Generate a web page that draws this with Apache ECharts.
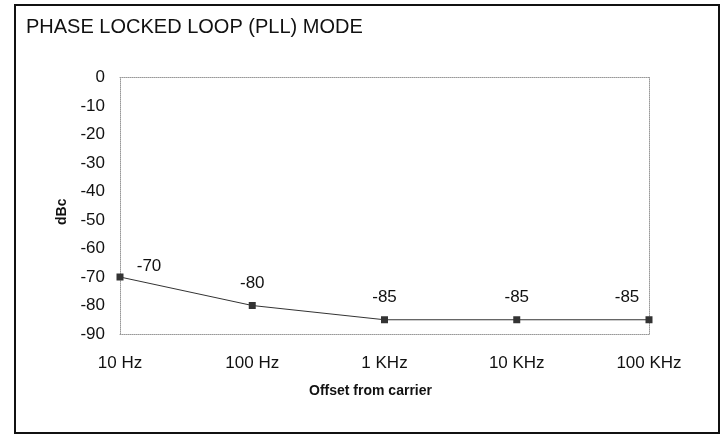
<!DOCTYPE html>
<html lang="en">
<head>
  <meta charset="UTF-8">
  <title>PLL mode</title>
  <style>
    html, body { margin: 0; padding: 0; width: 100%; height: 100%; background: #fff; }
    #main { width: 725px; height: 436px; }
  </style>
</head>
<body>
  <div id="main"></div>
  <script src="https://cdn.jsdelivr.net/npm/echarts@6/dist/echarts.min.js"></script>
  <script type="text/javascript">
    // 数据
    const offsets = ['10 Hz', '100 Hz', '1 KHz', '10 KHz', '100 KHz'];
    const dbcValues = [-70, -80, -85, -85, -85];
    const yTicks = { min: -90, max: 0, step: 10 };

    const font = 'Liberation Sans, Arial, sans-serif';
    const borderLine = { show: true, onZero: false, lineStyle: { color: '#999', type: 'dotted', width: 1 } };

    // 标签位置手工微调（和原图一致）
    const points = dbcValues.map(function (v, i) {
      let item = { value: v };
      if (i === 0) item.label = { offset: [29, 11] };
      if (i === dbcValues.length - 1) item.label = { offset: [-22, 0] };
      return item;
    });

    var myChart = echarts.init(document.getElementById('main'));

    var option = {
      animation: false,
      backgroundColor: '#fff',
      title: {
        text: 'PHASE LOCKED LOOP (PLL) MODE',
        left: 21,
        top: 12,
        textStyle: { fontFamily: font, fontSize: 20, fontWeight: 'normal', color: '#111' }
      },
      grid: { left: 120, right: 76, top: 77.5, bottom: 102 },
      xAxis: [{
        type: 'category',
        data: offsets,
        boundaryGap: false,
        axisLine: borderLine,
        axisTick: { show: false },
        axisLabel: { margin: 21, fontFamily: font, fontSize: 17, color: '#111' },
        name: 'Offset from carrier',
        nameLocation: 'middle',
        nameGap: 50,
        nameTextStyle: { fontFamily: font, fontSize: 14, fontWeight: 'bold', color: '#111', padding: [0, 28, 0, 0] }
      }, {
        type: 'category',
        data: offsets,
        boundaryGap: false,
        position: 'top',
        axisLine: borderLine,
        axisTick: { show: false },
        axisLabel: { show: false }
      }],
      yAxis: [{
        type: 'value',
        min: yTicks.min,
        max: yTicks.max,
        interval: yTicks.step,
        axisLine: borderLine,
        axisTick: { show: false },
        splitLine: { show: false },
        axisLabel: { margin: 15, fontFamily: font, fontSize: 17, color: '#111' },
        name: 'dBc',
        nameLocation: 'middle',
        nameGap: 44,
        nameTextStyle: { fontFamily: font, fontSize: 14, fontWeight: 'bold', color: '#111', padding: [0, 12, 0, 0] }
      }, {
        type: 'value',
        position: 'right',
        min: yTicks.min,
        max: yTicks.max,
        interval: yTicks.step,
        axisLine: borderLine,
        axisTick: { show: false },
        splitLine: { show: false },
        axisLabel: { show: false }
      }],
      series: [{
        type: 'line',
        data: points,
        symbol: 'rect',
        symbolSize: 7,
        itemStyle: { color: '#333' },
        lineStyle: { color: '#333', width: 1 },
        label: {
          show: true,
          position: 'top',
          distance: 10,
          fontFamily: font,
          fontSize: 17,
          color: '#111'
        }
      }],
      graphic: [{
        type: 'rect',
        shape: { x: 15, y: 5, width: 704, height: 428 },
        style: { fill: 'none', stroke: '#111', lineWidth: 2 },
        silent: true
      }]
    };

    myChart.setOption(option);
  </script>
</body>
</html>
